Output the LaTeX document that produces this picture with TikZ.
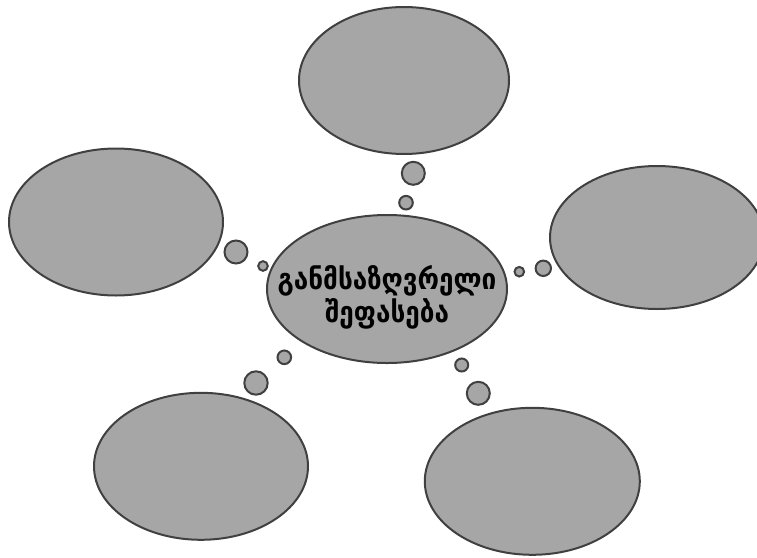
\documentclass[tikz,border=0pt]{standalone}
\usepackage{fontspec}
\usepackage{tikz}
\usetikzlibrary{shapes.geometric}
\newfontfamily\geofont{DejaVu Sans Condensed}
\definecolor{BubbleFill}{RGB}{166,166,166}
\definecolor{BubbleLine}{RGB}{64,64,64}

\begin{document}
\begin{tikzpicture}[x=1pt, y=-1pt,
    cloud/.style={draw=BubbleLine, fill=BubbleFill, line width=2pt, ellipse, inner sep=0pt, minimum width=214pt, minimum height=147pt},
    puff/.style={draw=BubbleLine, fill=BubbleFill, line width=2pt, circle, inner sep=0pt, minimum size=#1}]
      \useasboundingbox (0,0) rectangle (757,557);
      % outer thoughts
      \node[cloud, minimum width=210pt] (top) at (404,80.5) {};
      \node[cloud] (left) at (116,222) {};
      \node[cloud, minimum height=143pt] (right) at (657,237.5) {};
      \node[cloud] (botleft) at (201,466.3) {};
      \node[cloud, minimum width=215pt] (botright) at (532.3,481.3) {};
      % small puffs between the centre and each thought
      \node[puff=23pt] (top1) at (413.3,173.3) {};
      \node[puff=13.6pt] (top2) at (406,202.7) {};
      \node[puff=23pt] (left1) at (236,252) {};
      \node[puff=9.6pt] (left2) at (263,266) {};
      \node[puff=15.4pt] (right1) at (543.3,268.3) {};
      \node[puff=9.6pt] (right2) at (519.3,271.7) {};
      \node[puff=23.4pt] (botleft1) at (256,383) {};
      \node[puff=13.6pt] (botleft2) at (284.3,357.3) {};
      \node[puff=23pt] (botright1) at (478.3,393.3) {};
      \node[puff=13pt] (botright2) at (461.7,365) {};
      % centre
      \node[cloud, minimum width=240pt, minimum height=148pt] (main) at (387,289) {};
      \node[align=center, inner sep=0pt, font=\geofont\bfseries\fontsize{29}{33}\selectfont] (maintext) at (387,297) {განმსაზღვრელი\\შეფასება};
    \end{tikzpicture}
\end{document}
